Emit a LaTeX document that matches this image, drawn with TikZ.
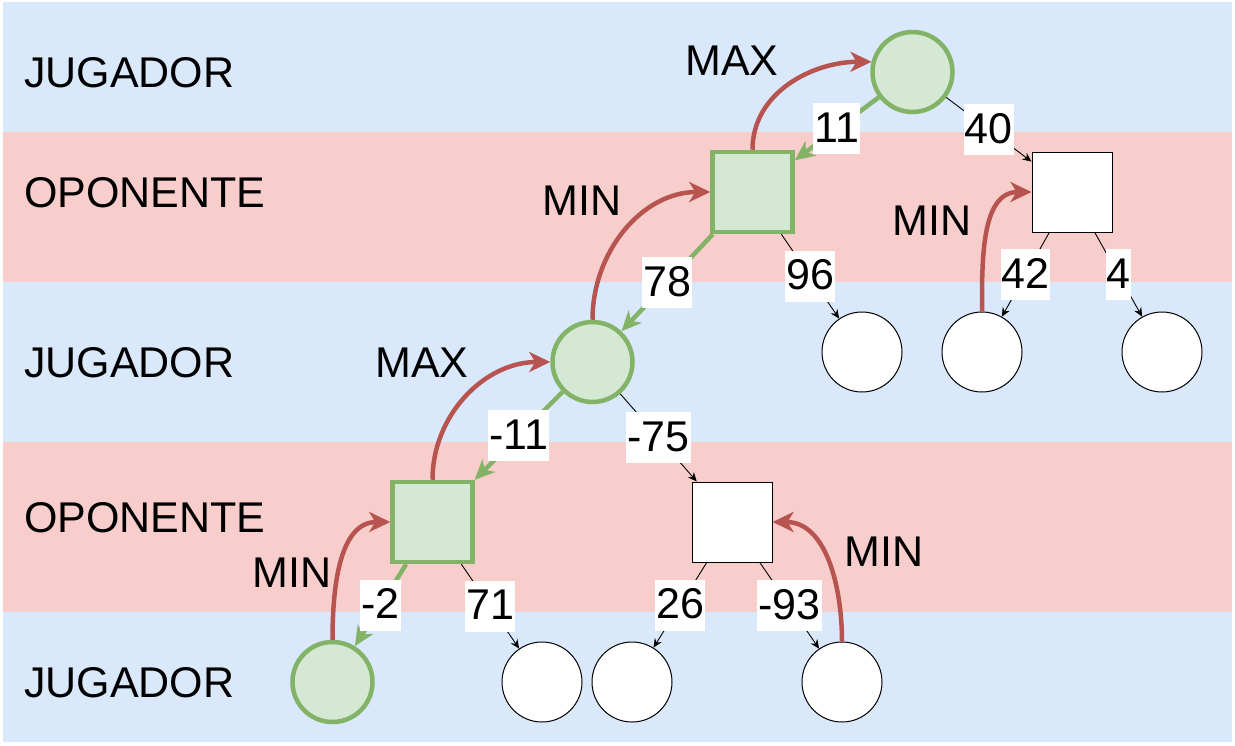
\documentclass[tikz,border=0pt]{standalone}
\usepackage{fontspec}
\setmainfont{Liberation Sans}
\usetikzlibrary{arrows.meta}
\definecolor{bandblue}{HTML}{DAE8FC}
\definecolor{bandpink}{HTML}{F8CECC}
\definecolor{gfill}{HTML}{D5E8D4}
\definecolor{gstroke}{HTML}{82B366}
\definecolor{rline}{HTML}{B85450}
\begin{document}
\begin{tikzpicture}[x=1pt,y=-1pt,
  every node/.style={font=\fontsize{43}{51}\selectfont},
  gcirc/.style={circle,draw=gstroke,fill=gfill,line width=4.5pt,minimum size=80pt,inner sep=0pt},
  gsq/.style={rectangle,draw=gstroke,fill=gfill,line width=4.5pt,minimum size=80pt,inner sep=0pt},
  wcirc/.style={circle,draw=black,fill=white,line width=1pt,minimum size=80pt,inner sep=0pt},
  wsq/.style={rectangle,draw=black,fill=white,line width=1pt,minimum size=80pt,inner sep=0pt},
  gedge/.style={draw=gstroke,line width=4.5pt,-{Stealth[length=20pt,width=18pt,inset=6pt]}},
  tedge/.style={draw=black,line width=0.9pt,-{Stealth[length=9pt,width=8pt,inset=3pt]}},
  redge/.style={draw=rline,line width=4.5pt,-{Stealth[length=21pt,width=20pt,inset=6pt]}},
  elbl/.style={fill=white,inner xsep=1pt,inner ysep=0pt,text height=39pt,text depth=12pt},
  rowlbl/.style={anchor=base west,inner sep=0pt},
  mmlbl/.style={anchor=base,inner sep=0pt}
]
\useasboundingbox (0,0) rectangle (1235,745);
% bands
\fill[bandblue] (3,2) rectangle (1232,132);
\fill[bandpink] (3,132) rectangle (1232,282);
\fill[bandblue] (3,282) rectangle (1232,442);
\fill[bandpink] (3,442) rectangle (1232,612);
\fill[bandblue] (3,612) rectangle (1232,742);
% row labels
\node[rowlbl] (r1) at (24,87) {JUGADOR};
\node[rowlbl] (r2) at (24,207) {OPONENTE};
\node[rowlbl] (r3) at (24,377) {JUGADOR};
\node[rowlbl] (r4) at (24,532) {OPONENTE};
\node[rowlbl] (r5) at (24,697) {JUGADOR};
% nodes
\node[gcirc] (root) at (912.5,72) {};
\node[gsq] (A) at (752.5,192) {};
\node[wsq] (B) at (1072,192) {};
\node[gcirc] (C) at (592.5,362) {};
\node[wcirc] (c96) at (862,352) {};
\node[wcirc] (c42) at (982,352) {};
\node[wcirc] (c4) at (1162,352) {};
\node[gsq] (D) at (432.5,522) {};
\node[wsq] (E) at (732,522) {};
\node[gcirc] (F) at (332.5,682) {};
\node[wcirc] (c71) at (542,682) {};
\node[wcirc] (c26) at (632,682) {};
\node[wcirc] (c93) at (842,682) {};
% straight edges
\draw[gedge] (root) -- node[elbl] {11} (A);
\draw[tedge] (root) -- node[elbl] {40} (B);
\draw[gedge] (A) -- node[elbl] {78} (C);
\draw[tedge] (A) -- node[elbl] {96} (c96);
\draw[tedge] (B) -- node[elbl] {42} (c42);
\draw[tedge] (B) -- node[elbl] {4} (c4);
\draw[gedge] (C) -- node[elbl] {-11} (D);
\draw[tedge] (C) -- node[elbl] {-75} (E);
\draw[gedge] (D) -- node[elbl] {-2} (F);
\draw[tedge] (D) -- node[elbl] {71} (c71);
\draw[tedge] (E) -- node[elbl] {26} (c26);
\draw[tedge] (E) -- node[elbl] {-93} (c93);
% red curved arrows
\draw[redge] (A.north) to[out=90,in=180] (root.166);
\draw[redge] (C.north) to[out=90,in=180] (A.west);
\draw[redge] (c42.north) to[out=90,in=180] (B.west);
\draw[redge] (D.north) to[out=90,in=180] (C.west);
\draw[redge] (F.north) to[out=90,in=180] (D.west);
\draw[redge] (c93.north) to[out=90,in=0] (E.east);
% MAX / MIN labels
\node[mmlbl] (m1) at (732,75) {MAX};
\node[mmlbl] (m2) at (582,215) {MIN};
\node[mmlbl] (m3) at (932,235) {MIN};
\node[mmlbl] (m4) at (422,377) {MAX};
\node[mmlbl] (m5) at (292,587) {MIN};
\node[mmlbl] (m6) at (884,566) {MIN};
\end{tikzpicture}
\end{document}
